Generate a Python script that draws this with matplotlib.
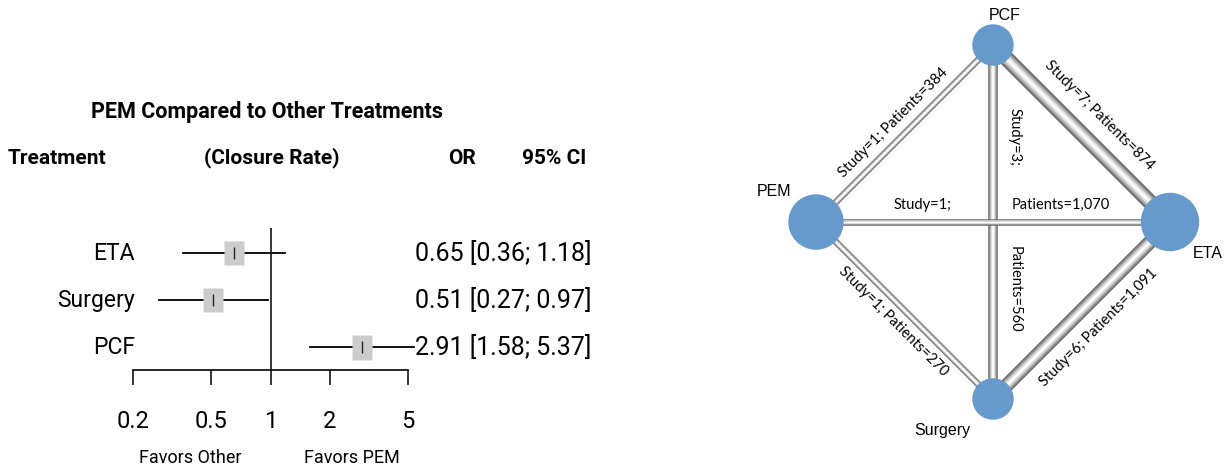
import matplotlib.pyplot as plt
from matplotlib.patches import Circle
from matplotlib.ticker import NullLocator
import numpy as np

# forest plot data
treatments = ['ETA', 'Surgery', 'PCF']
odds_ratio = [0.65, 0.51, 2.91]
ci_low = [0.36, 0.27, 1.58]
ci_high = [1.18, 0.97, 5.37]
box_size = [24, 24, 25]
ticks = [0.2, 0.5, 1, 2, 5]
tick_labels = ['0.2', '0.5', '1', '2', '5']

# network data
nodes = ['PCF', 'PEM', 'ETA', 'Surgery']
node_radius = [20, 27, 28.5, 20]
edges = [('PEM', 'PCF'), ('PCF', 'ETA'), ('PCF', 'Surgery'),
         ('PEM', 'ETA'), ('PEM', 'Surgery'), ('Surgery', 'ETA')]
studies = [1, 7, 3, 1, 1, 6]
patients = ['384', '874', '560', '1,070', '270', '1,091']

W, H = 1226, 469
narrow = ['Roboto', 'Liberation Sans', 'DejaVu Sans']
arial = ['Liberation Sans', 'DejaVu Sans']
calib = ['Lato', 'DejaVu Sans']

fig = plt.figure(figsize=(W / 100, H / 100), dpi=100)


def fx(x):
    return x / W


def fy(y):
    return 1 - y / H


# ---------------- forest plot ----------------
ax = fig.add_axes([fx(133), fy(370), (408 - 133) / W, (370 - 228) / H])
ax.set_xscale('log')
ax.set_xlim(0.2, 5)
ax.set_ylim(2.49, -0.53)
for s in ['top', 'left', 'right']:
    ax.spines[s].set_visible(False)
ax.spines['bottom'].set_linewidth(1.2)
ax.set_yticks([])
ax.set_xticks(ticks)
ax.set_xticklabels(tick_labels, family=narrow)
ax.xaxis.set_minor_locator(NullLocator())
ax.tick_params(axis='x', length=10.8, width=1.1, pad=18, labelsize=17)
ax.axvline(1, color='black', lw=1.1)

box = [(-0.4, -0.5), (0.4, -0.5), (0.4, 0.5), (-0.4, 0.5), (-0.4, -0.5)]
for i in range(len(treatments)):
    ax.plot([ci_low[i], ci_high[i]], [i, i], color='black', lw=1.3, clip_on=False, zorder=2)
    ax.plot(odds_ratio[i], i, marker=box, ms=box_size[i] * 0.72, color='#cccccc',
            mec='none', clip_on=False, zorder=3)
    ax.plot(odds_ratio[i], i, marker='|', ms=8, mew=1.0, color='#222222',
            clip_on=False, zorder=4)
    fig.text(fx(135), fy(253 + 47 * i), treatments[i], ha='right', va='center',
             fontsize=16.5, family=narrow)
    fig.text(fx(415), fy(253 + 47 * i),
             f'{odds_ratio[i]:.2f} [{ci_low[i]:.2f}; {ci_high[i]:.2f}]',
             ha='left', va='center', fontsize=18, family=narrow)

fig.text(fx(267), fy(112), 'PEM Compared to Other Treatments', ha='center', va='center',
         fontsize=15.5, fontweight='bold', family=narrow)
fig.text(fx(8), fy(158), 'Treatment', ha='left', va='center', fontsize=15,
         fontweight='bold', family=narrow)
fig.text(fx(272), fy(158), '(Closure Rate)', ha='center', va='center', fontsize=15,
         fontweight='bold', family=narrow)
fig.text(fx(462), fy(158), 'OR', ha='center', va='center', fontsize=15,
         fontweight='bold', family=narrow)
fig.text(fx(554), fy(158), '95% CI', ha='center', va='center', fontsize=15,
         fontweight='bold', family=narrow)
fig.text(fx(190), fy(458), 'Favors Other', ha='center', va='center', fontsize=13,
         family=narrow)
fig.text(fx(352), fy(458), 'Favors PEM', ha='center', va='center', fontsize=13,
         family=narrow)

# ---------------- network plot ----------------
S = 177.0  # pixels per layout unit
axr = fig.add_axes([fx(740), 0, (W - 740) / W, 1])
axr.set_xlim(-(993 - 740) / S, (W - 993) / S)
axr.set_ylim(-(H - 222) / S, 222 / S)
axr.axis('off')

pos = {'PCF': (0, 1), 'PEM': (-1, 0), 'ETA': (1, 0), 'Surgery': (0, -1)}
layers = [(1.0, '#666666'), (0.8, '#949494'), (0.6, '#bebebe'),
          (0.4, '#e2e2e2'), (0.18, '#ffffff')]

for (a, b), n, p in zip(edges, studies, patients):
    (x0, y0), (x1, y1) = pos[a], pos[b]
    w = (5 + 1.5 * n) * 0.72
    for frac, col in layers:
        axr.plot([x0, x1], [y0, y1], color=col, lw=w * frac, solid_capstyle='butt', zorder=1)
    dx, dy = x1 - x0, y1 - y0
    ang = np.degrees(np.arctan2(dy, dx))
    if ang > 90:
        ang -= 180
    elif ang <= -90:
        ang += 180
    mx, my = (x0 + x1) / 2, (y0 + y1) / 2
    if dx != 0 and dy != 0:
        # diagonal edge: label outside the diamond
        nrm = np.hypot(mx, my)
        off = (14 + 1.6 * n) / S
        axr.text(mx + mx / nrm * off, my + my / nrm * off, f'Study={n}; Patients={p}',
                 rotation=ang, rotation_mode='anchor', ha='center', va='center',
                 fontsize=10.5, family=calib)
    elif dx == 0:
        axr.text(x0 + 22 / S, y0 + dy * 0.26, f'Study={n};', rotation=-90,
                 ha='center', va='center', fontsize=10.5, family=calib)
        axr.text(x0 + 22 / S, y0 + dy * 0.69, f'Patients={p}', rotation=-90,
                 ha='center', va='center', fontsize=10.5, family=calib)
    else:
        axr.text(x0 + dx * 0.30, y0 + 17 / S, f'Study={n};',
                 ha='center', va='center', fontsize=10.5, family=calib)
        axr.text(x0 + dx * 0.69, y0 + 17 / S, f'Patients={p}',
                 ha='center', va='center', fontsize=10.5, family=calib)

for name, r in zip(nodes, node_radius):
    axr.add_patch(Circle(pos[name], r / S, color='#6699cc', zorder=5))

label_pos = {'PCF': (1005, 15), 'PEM': (774, 192), 'ETA': (1208, 253), 'Surgery': (942, 431)}
for name in nodes:
    lx, ly = label_pos[name]
    fig.text(fx(lx), fy(ly), name, ha='center', va='center', fontsize=11.5, family=arial)

fig.savefig('out.png', dpi=100)
plt.close(fig)
